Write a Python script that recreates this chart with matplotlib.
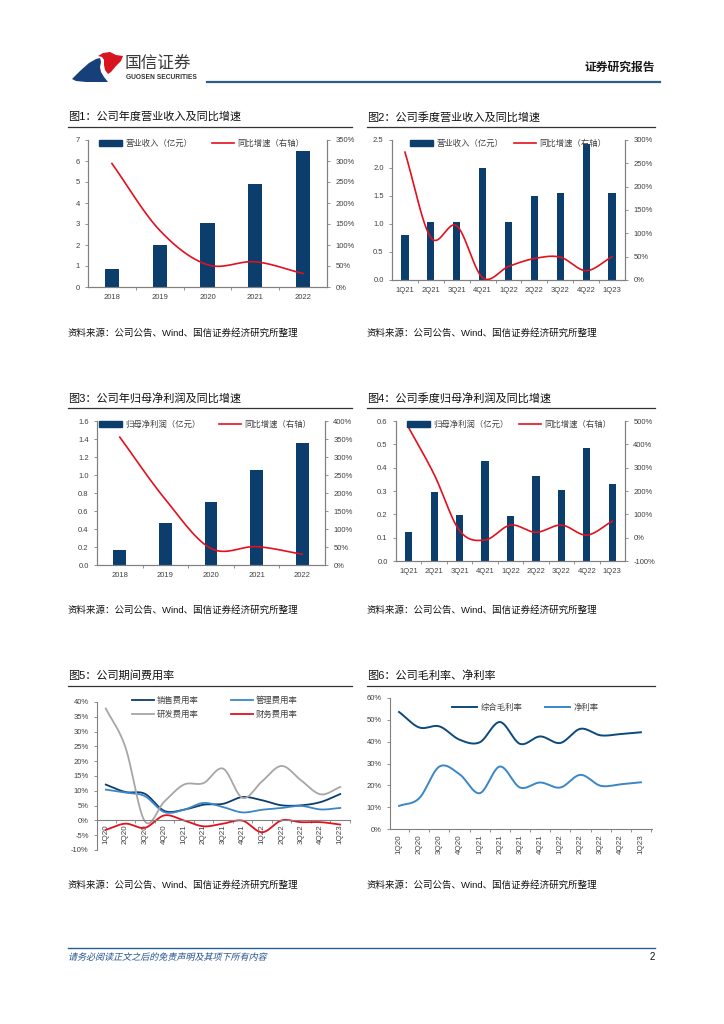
import matplotlib
matplotlib.use('Agg')
import matplotlib.pyplot as plt
from matplotlib.patches import Polygon, Patch, PathPatch
from matplotlib.lines import Line2D
from matplotlib.legend import Legend
from matplotlib.textpath import TextPath
from matplotlib.font_manager import FontProperties
from matplotlib.transforms import Affine2D
import numpy as np

plt.rcParams['font.family'] = ['Liberation Sans', 'Noto Sans CJK SC']
plt.rcParams['axes.unicode_minus'] = False

# ---- data ----
years = ['2018', '2019', '2020', '2021', '2022']
quarters9 = ['1Q21', '2Q21', '3Q21', '4Q21', '1Q22', '2Q22', '3Q22', '4Q22', '1Q23']
quarters13 = ['1Q20', '2Q20', '3Q20', '4Q20', '1Q21', '2Q21', '3Q21', '4Q21',
              '1Q22', '2Q22', '3Q22', '4Q22', '1Q23']

rev_year = [0.85, 2.0, 3.07, 4.9, 6.47]
rev_year_yoy = [294, 135, 53, 60, 32]

rev_q = [0.80, 1.03, 1.04, 2.0, 1.03, 1.50, 1.55, 2.42, 1.55]
rev_q_yoy = [274, 91, 116, 5, 29, 46, 49, 20, 50]

np_year = [0.165, 0.465, 0.70, 1.06, 1.36]
np_year_yoy = [355, 182, 46, 51, 30]

np_q = [0.125, 0.295, 0.198, 0.427, 0.193, 0.366, 0.304, 0.484, 0.33]
np_q_yoy = [471, 271, 30, -10, 54, 23, 54, 11, 71]

sales_rate = [12.1, 9.6, 9.0, 3.2, 3.6, 5.3, 5.6, 7.9, 6.8, 5.1, 5.1, 6.2, 8.9]
admin_rate = [10.4, 9.4, 8.2, 2.8, 3.6, 5.9, 4.5, 2.7, 3.6, 4.2, 4.9, 3.7, 4.2]
rd_rate = [37.8, 24.8, -0.3, 6.4, 12.1, 12.6, 17.5, 7.6, 13.2, 18.4, 13.5, 8.8, 11.3]
fin_rate = [-3.2, -1.1, -2.5, 1.7, 0.0, -2.0, -1.1, -0.1, -4.0, 0.0, -0.6, -0.6, -1.4]

gross_margin = [53.6, 46.5, 47.0, 40.9, 39.7, 49.0, 39.0, 42.4, 39.4, 45.9, 42.9, 43.5, 44.3]
net_margin = [10.6, 14.1, 28.6, 25.1, 16.4, 28.6, 19.0, 21.3, 19.0, 24.8, 19.8, 20.5, 21.4]

source = '资料来源：公司公告、Wind、国信证券经济研究所整理'

NAVY = '#0b3d6d'
RED = '#e3101e'
LBLUE = '#3a86c8'
GRAY = '#a6a6a6'
TXT = '#404040'
SPINE = '#808080'

W, H = 724, 1024
fig = plt.figure(figsize=(W / 100, H / 100), dpi=100)


def fx(x):
    return x / W


def fy(y):
    return 1 - y / H


def rect(l, t, r, b):
    return [l / W, 1 - b / H, (r - l) / W, (b - t) / H]


def smooth(y, n=24):
    # Catmull-Rom curve through the points, like Excel's smoothed line
    y = np.asarray(y, float)
    x = np.arange(len(y), dtype=float)
    p = np.concatenate([[2 * y[0] - y[1]], y, [2 * y[-1] - y[-2]]])
    xs, ys = [], []
    for i in range(len(y) - 1):
        t = np.linspace(0, 1, n, endpoint=False)
        p0, p1, p2, p3 = p[i], p[i + 1], p[i + 2], p[i + 3]
        yy = 0.5 * ((2 * p1) + (-p0 + p2) * t + (2 * p0 - 5 * p1 + 4 * p2 - p3) * t ** 2
                    + (-p0 + 3 * p1 - 3 * p2 + p3) * t ** 3)
        xs.append(x[i] + t)
        ys.append(yy)
    xs.append([x[-1]])
    ys.append([y[-1]])
    return np.concatenate(xs), np.concatenate(ys)


def leg(ax, handle, label, x, y, hl=2.6):
    L = Legend(ax, [handle], [label], loc='center left', bbox_to_anchor=(fx(x), fy(y)),
               bbox_transform=fig.transFigure, frameon=False, borderpad=0,
               borderaxespad=0, fontsize=6, handlelength=hl, handletextpad=0.4,
               labelcolor=TXT)
    ax.add_artist(L)


def style(ax, sides):
    for s in ['top', 'right', 'left', 'bottom']:
        ax.spines[s].set_visible(s in sides)
        ax.spines[s].set_color(SPINE)
        ax.spines[s].set_linewidth(0.8)
    ax.tick_params(colors=SPINE, labelcolor=TXT, labelsize=5.5, length=2.5, width=0.6)


def title_block(x0, x1, y, text):
    fig.text(fx(x0), fy(y), text, fontsize=8, color='#111111', va='center', ha='left')
    fig.add_artist(Line2D([fx(x0), fx(x1)], [fy(y + 10), fy(y + 10)], color='#333333', lw=0.9))


def combo(r, cats, bars, growth, ylim, ystep, yfmt, rlim, rstep, bar_label, width, legx):
    ax = fig.add_axes(r)
    x = np.arange(len(cats))
    ax.bar(x, bars, width, color=NAVY, zorder=2)
    ax.set_xlim(-0.5, len(cats) - 0.5)
    ax.set_ylim(*ylim)
    ax.set_yticks(np.arange(ylim[0], ylim[1] + ystep / 2, ystep))
    ax.set_yticklabels([yfmt.format(v) for v in ax.get_yticks()])
    ax.set_xticks(x)
    ax.set_xticklabels(cats)
    ax.set_xticks(np.arange(len(cats) - 1) + 0.5, minor=True)
    style(ax, ['left', 'bottom', 'right'])
    ax.tick_params(axis='x', which='major', length=0, pad=5)
    ax.tick_params(axis='x', which='minor', length=2.5, width=0.6, color=SPINE)
    ax2 = ax.twinx()
    xs, ys = smooth(growth)
    ax2.plot(xs, ys, color=RED, lw=1.2, zorder=3)
    ax2.set_ylim(*rlim)
    ax2.set_yticks(np.arange(rlim[0], rlim[1] + rstep / 2, rstep))
    ax2.set_yticklabels(['{:.0f}%'.format(v) for v in ax2.get_yticks()])
    style(ax2, ['left', 'bottom', 'right'])
    top = fig.transFigure.inverted().transform(ax.transAxes.transform((0, 1)))[1]
    ytop = (1 - top) * H + 4
    leg(ax2, Patch(color=NAVY), bar_label, legx[0], ytop, hl=2.8)
    leg(ax2, Line2D([], [], color=RED, lw=1.2), '同比增速（右轴）', legx[1], ytop)
    return ax, ax2


# ---- header ----
navy_logo = [(72, 79), (80, 71), (89, 63), (96, 59), (100, 58), (101, 62), (100, 67),
             (101, 72), (104, 77), (108, 82), (86, 82), (76, 81)]
red_logo = [(98, 56), (103, 53), (110, 52), (116, 55), (123, 56), (121, 61), (116, 66),
            (111, 72), (108, 74), (105, 70), (104, 65), (104, 60), (102, 57)]
fig.add_artist(Polygon([(fx(a), fy(b)) for a, b in navy_logo], closed=True,
                       transform=fig.transFigure, color='#173f7a', lw=0))
fig.add_artist(Polygon([(fx(a), fy(b)) for a, b in red_logo], closed=True,
                       transform=fig.transFigure, color='#d8141e', lw=0))
fig.text(fx(125), fy(63), '国信证券', fontsize=12, color='#3a3a3a', va='center')
fig.text(fx(126), fy(77.5), 'GUOSEN SECURITIES', fontsize=4.8, color='#333333',
         va='center', fontweight='bold')
fig.add_artist(Line2D([fx(207), fx(660)], [fy(82), fy(82)], color='#2c5d91', lw=1.6))
fig.text(fx(655), fy(68), '证券研究报告', fontsize=8.5, color='#1a1a1a', va='center',
         ha='right', fontweight='bold')

# ---- chart 1 ----
title_block(68, 352, 117, '图1：公司年度营业收入及同比增速')
combo(rect(88, 140, 327, 287), years, rev_year, rev_year_yoy, (0, 7), 1, '{:.0f}',
      (0, 350), 50, '营业收入（亿元）', 0.3, (99, 212))
fig.text(fx(68), fy(333), source, fontsize=6.8, color='#111111', va='center')

# ---- chart 2 ----
title_block(367, 655, 117, '图2：公司季度营业收入及同比增速')
combo(rect(392, 140, 625, 280), quarters9, rev_q, rev_q_yoy, (0, 2.5), 0.5, '{:.1f}',
      (0, 300), 50, '营业收入（亿元）', 0.28, (410, 514))
fig.text(fx(367), fy(333), source, fontsize=6.8, color='#111111', va='center')

# ---- chart 3 ----
title_block(68, 352, 398, '图3：公司年归母净利润及同比增速')
combo(rect(97, 421, 325, 565), years, np_year, np_year_yoy, (0, 1.6), 0.2, '{:.1f}',
      (0, 400), 50, '归母净利润（亿元）', 0.28, (99, 219))
fig.text(fx(68), fy(610), source, fontsize=6.8, color='#111111', va='center')

# ---- chart 4 ----
title_block(367, 655, 398, '图4：公司季度归母净利润及同比增速')
combo(rect(396, 421, 625, 561), quarters9, np_q, np_q_yoy, (0, 0.6), 0.1, '{:.1f}',
      (-100, 500), 100, '归母净利润（亿元）', 0.28, (407, 519))
fig.text(fx(367), fy(610), source, fontsize=6.8, color='#111111', va='center')

# ---- chart 5 ----
title_block(68, 352, 676, '图5：公司期间费用率')
ax5 = fig.add_axes(rect(97, 702, 350, 850))
x13 = np.arange(len(quarters13))
series5 = [(sales_rate, NAVY, '销售费用率'), (admin_rate, LBLUE, '管理费用率'),
           (rd_rate, GRAY, '研发费用率'), (fin_rate, RED, '财务费用率')]
for vals, c, lab in series5:
    xs, ys = smooth(vals)
    ax5.plot(xs, ys, color=c, lw=1.3)
ax5.set_xlim(-0.45, 12.45)
ax5.set_ylim(-10, 40)
ax5.set_yticks(np.arange(-10, 41, 5))
ax5.set_yticklabels(['{:.0f}%'.format(v) for v in ax5.get_yticks()])
style(ax5, ['left', 'bottom'])
ax5.spines['bottom'].set_position(('data', 0))
ax5.set_xticks(x13)
ax5.set_xticklabels(quarters13, rotation=90)
ax5.set_xticks(np.arange(len(quarters13)) + 0.5, minor=True)
ax5.tick_params(axis='x', which='major', length=0, pad=3, labelsize=5.8)
ax5.tick_params(axis='x', which='minor', length=2.5, width=0.6, color=SPINE)
leg(ax5, Line2D([], [], color=NAVY, lw=1.3), '销售费用率', 132, 701)
leg(ax5, Line2D([], [], color=LBLUE, lw=1.3), '管理费用率', 231, 701)
leg(ax5, Line2D([], [], color=GRAY, lw=1.3), '研发费用率', 132, 715)
leg(ax5, Line2D([], [], color=RED, lw=1.3), '财务费用率', 231, 715)
fig.text(fx(68), fy(885), source, fontsize=6.8, color='#111111', va='center')

# ---- chart 6 ----
title_block(367, 655, 676, '图6：公司毛利率、净利率')
ax6 = fig.add_axes(rect(390, 698, 652, 829))
for vals, c in [(gross_margin, '#0d4a7c'), (net_margin, LBLUE)]:
    xs, ys = smooth(vals)
    ax6.plot(xs, ys, color=c, lw=1.4)
ax6.set_xlim(-0.45, 12.55)
ax6.set_ylim(0, 60)
ax6.set_yticks(np.arange(0, 61, 10))
ax6.set_yticklabels(['{:.0f}%'.format(v) for v in ax6.get_yticks()])
style(ax6, ['left', 'bottom'])
ax6.set_xticks(x13)
ax6.set_xticklabels(quarters13, rotation=90)
ax6.set_xticks(np.arange(len(quarters13)) + 0.5, minor=True)
ax6.tick_params(axis='x', which='major', length=0, pad=4, labelsize=5.8)
ax6.tick_params(axis='x', which='minor', length=2.5, width=0.6, color=SPINE)
leg(ax6, Line2D([], [], color='#0d4a7c', lw=1.4), '综合毛利率', 452, 708, hl=3.0)
leg(ax6, Line2D([], [], color=LBLUE, lw=1.4), '净利率', 545, 708, hl=3.0)
fig.text(fx(367), fy(885), source, fontsize=6.8, color='#111111', va='center')

# ---- footer ----
fig.add_artist(Line2D([fx(68), fx(655)], [fy(948), fy(948)], color='#2c5d91', lw=1.0))
# CJK font has no italic, so slant the outline by hand
foot = TextPath((0, 0), '请务必阅读正文之后的免责声明及其项下所有内容', size=6.5,
                prop=FontProperties(family='Noto Sans CJK SC'))
k = fig.dpi / 72
foot_tr = Affine2D().skew_deg(14, 0).scale(k).translate(68, (1024 - 960))
fig.add_artist(PathPatch(foot, transform=foot_tr, color='#1f4e8c', lw=0))
fig.text(fx(655), fy(957), '2', fontsize=7, color='#111111', va='center', ha='right')

fig.savefig('out.png', dpi=100)
